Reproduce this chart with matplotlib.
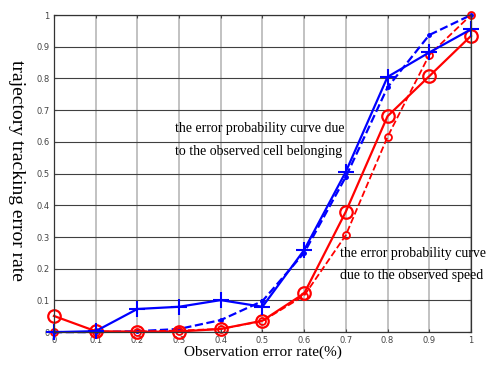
import matplotlib.pyplot as plt

x = [0, 0.1, 0.2, 0.3, 0.4, 0.5, 0.6, 0.7, 0.8, 0.9, 1.0]
red_solid = [0.051, 0.003, 0.001, 0.002, 0.010, 0.036, 0.122, 0.380, 0.681, 0.807, 0.934]
red_dash = [0.0, 0.0, 0.002, 0.005, 0.010, 0.035, 0.115, 0.306, 0.616, 0.874, 1.0]
blue_solid = [0.0, 0.003, 0.073, 0.080, 0.101, 0.080, 0.259, 0.506, 0.805, 0.882, 0.955]
blue_dash = [0.0, 0.0, 0.003, 0.010, 0.038, 0.098, 0.250, 0.490, 0.772, 0.937, 1.0]

xticks = [0, 0.1, 0.2, 0.3, 0.4, 0.5, 0.6, 0.7, 0.8, 0.9, 1]
xticklabels = ["0", "0.1", "0.2", "0.3", "0.4", "0.5", "0.6", "0.7", "0.8", "0.9", "1"]
yticks = xticks
yticklabels = xticklabels

SERIF = ["Liberation Serif", "DejaVu Serif"]

fig = plt.figure(figsize=(4.86, 3.67), dpi=100)
ax = fig.add_axes([0.111, 0.095, 0.858, 0.864])

ax.plot(x, blue_dash, "--", color="blue", lw=1.6, marker=".", ms=5,
        clip_on=False)
ax.plot(x, red_dash, "--", color="red", lw=1.3, marker="o", ms=5,
        mfc="none", mew=1.3, clip_on=False)
ax.plot(x, red_solid, "-", color="red", lw=1.6, marker="o", ms=9,
        mfc="none", mew=1.6, clip_on=False)
ax.plot(x, blue_solid, "-", color="blue", lw=1.6, marker="+", ms=11,
        mew=1.5, clip_on=False)

ax.set_xlim(0, 1)
ax.set_ylim(0, 1)
ax.set_xticks(xticks)
ax.set_xticklabels(xticklabels)
ax.set_yticks(yticks)
ax.set_yticklabels(yticklabels)
ax.tick_params(direction="in", top=True, right=True, length=2,
               labelsize=6, colors="#444444", pad=3)
ax.grid(True, axis="x", color="#b8b8b8", lw=1.2)
ax.grid(True, axis="y", color="#404040", lw=0.8)
ax.set_axisbelow(True)
for sp in ax.spines.values():
    sp.set_color("#333333")
    sp.set_linewidth(0.9)

ax.text(0.29, 0.606, "the error probability curve due\nto the observed cell belonging",
        family=SERIF, fontsize=10, linespacing=1.95, ha="left", va="center")
ax.text(0.685, 0.213, "the error probability curve\ndue to the observed speed",
        family=SERIF, fontsize=10, linespacing=1.95, ha="left", va="center",
        clip_on=False)

ax.set_xlabel("Observation error rate(%)", family=SERIF, fontsize=11, labelpad=0)
fig.text(0.033, 0.535, "trajectory tracking error rate", family=SERIF,
         fontsize=14, rotation=270, ha="center", va="center")

fig.savefig("out.png", dpi=100)
